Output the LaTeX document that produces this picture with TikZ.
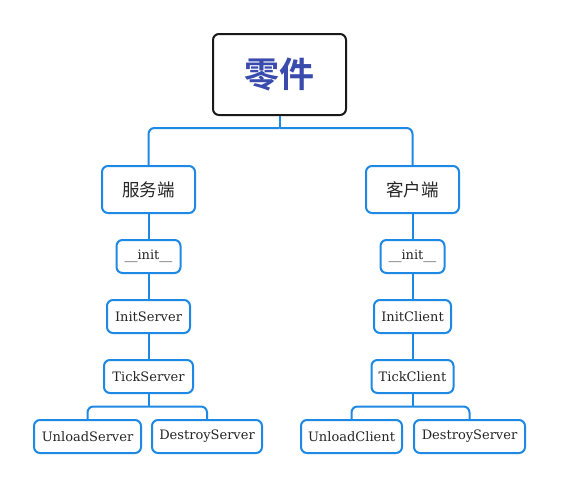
\documentclass[tikz,border=0pt]{standalone}
\usepackage{fontspec}
\setmainfont{DejaVu Serif}
\newfontfamily\cjk{Noto Sans CJK SC}
\newfontfamily\cjkb{Noto Sans CJK SC Bold}
\definecolor{lineblue}{HTML}{1E88E5}
\definecolor{titleblue}{HTML}{3A4BAE}
\definecolor{txt}{HTML}{262626}
\tikzset{
  box/.style={draw=lineblue, line width=2pt, rounded corners=6pt, fill=white, inner sep=0pt, text=txt, font=\fontsize{13}{15}\selectfont},
  cbox/.style={box, minimum width=93pt, minimum height=47pt, font=\cjk\fontsize{17.5}{20}\selectfont},
  rootbox/.style={draw=black!90, line width=2pt, rounded corners=6pt, fill=white, minimum width=133pt, minimum height=81pt, text=titleblue, font=\cjkb\fontsize{35}{40}\selectfont},
  conn/.style={draw=lineblue, line width=2pt, rounded corners=6pt},
}
\begin{document}
\begin{tikzpicture}[x=1pt,y=-1pt]
\useasboundingbox[fill=white] (0,0) rectangle (569,488);
\node[rootbox] (root) at (279.5,74.5) {零件};
\node[cbox] (srv) at (148.5,189.5) {服务端};
\node[cbox] (cli) at (412.5,189.5) {客户端};
\node[box, minimum width=64pt, minimum height=33pt] (sinit) at (148.5,256.5) {\_\_init\_\_};
\node[box, minimum width=83pt, minimum height=33pt] (sinits) at (148.5,316.5) {InitServer};
\node[box, minimum width=89pt, minimum height=33pt] (stick) at (148.5,376.5) {TickServer};
\node[box, minimum width=107pt, minimum height=33pt] (sunl) at (87.5,436.5) {UnloadServer};
\node[box, minimum width=110pt, minimum height=33pt] (sdes) at (207,436.5) {DestroyServer};
\node[box, minimum width=64pt, minimum height=33pt] (cinit) at (412.5,256.5) {\_\_init\_\_};
\node[box, minimum width=77pt, minimum height=33pt] (cinitc) at (412.5,316.5) {InitClient};
\node[box, minimum width=82pt, minimum height=33pt] (ctick) at (412.5,376.5) {TickClient};
\node[box, minimum width=101pt, minimum height=33pt] (cunl) at (351.5,436.5) {UnloadClient};
\node[box, minimum width=111pt, minimum height=33pt] (cdes) at (469.5,436.5) {DestroyServer};
\coordinate (b0) at (279.5,128);
\coordinate (b1) at (148.5,406.5);
\coordinate (b2) at (412.5,406.5);
\draw[conn] (root.south) -- (b0);
\draw[conn] (b0) -| (srv.north);
\draw[conn] (b0) -| (cli.north);
\draw[conn] (srv.south) -- (sinit.north);
\draw[conn] (sinit.south) -- (sinits.north);
\draw[conn] (sinits.south) -- (stick.north);
\draw[conn] (stick.south) -- (b1);
\draw[conn] (b1) -| (sunl.north);
\draw[conn] (b1) -| (sdes.north);
\draw[conn] (cli.south) -- (cinit.north);
\draw[conn] (cinit.south) -- (cinitc.north);
\draw[conn] (cinitc.south) -- (ctick.north);
\draw[conn] (ctick.south) -- (b2);
\draw[conn] (b2) -| (cunl.north);
\draw[conn] (b2) -| (cdes.north);
\end{tikzpicture}
\end{document}
